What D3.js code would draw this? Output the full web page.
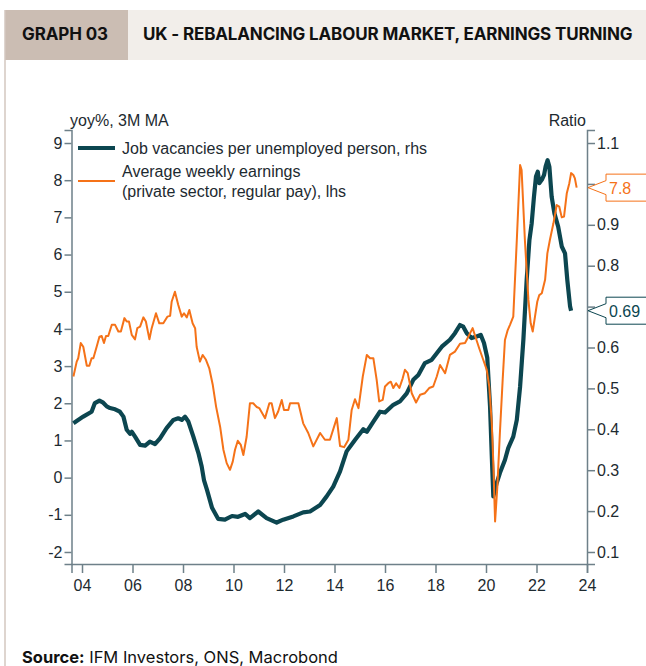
<!DOCTYPE html>
<html>
<head>
<meta charset="utf-8">
<script src="https://cdn.jsdelivr.net/npm/d3@7"></script>
<style>
  body { margin: 0; background: #fff; }
  .axis text, .lbl { font-family: "Liberation Sans", Arial, sans-serif; font-size: 16px; fill: #1d2a30; }
  .hdr { font-family: Inter, "Noto Sans", sans-serif; font-weight: 700; font-size: 17px; fill: #111; }
</style>
</head>
<body>
<svg id="chart" width="646" height="666"></svg>
<script>
// job vacancies per unemployed person (ratio, rhs)
const vacDates = [2003.66, 2004.05, 2004.38, 2004.51, 2004.69, 2004.84, 2004.98, 2005.11, 2005.31, 2005.50,
  2005.64, 2005.77, 2005.90, 2005.97, 2006.10, 2006.30, 2006.50, 2006.69, 2006.89, 2007.09,
  2007.35, 2007.62, 2007.81, 2007.95, 2008.08, 2008.21, 2008.41, 2008.61, 2008.74, 2008.83,
  2008.95, 2009.15, 2009.39, 2009.66, 2009.94, 2010.18, 2010.46, 2010.65, 2010.98, 2011.31,
  2011.71, 2011.97, 2012.37, 2012.76, 2013.03, 2013.43, 2013.69, 2013.95, 2014.22, 2014.48,
  2014.81, 2015.14, 2015.28, 2015.54, 2015.80, 2016.00, 2016.33, 2016.59, 2016.86, 2017.12,
  2017.32, 2017.58, 2017.85, 2018.25, 2018.57, 2018.77, 2018.97, 2019.10, 2019.24, 2019.43,
  2019.63, 2019.79, 2019.92, 2020.05, 2020.16, 2020.23, 2020.29, 2020.42, 2020.55, 2020.75,
  2020.88, 2021.08, 2021.22, 2021.35, 2021.48, 2021.61, 2021.72, 2021.81, 2021.90, 2021.98,
  2022.05, 2022.11, 2022.21, 2022.30, 2022.36, 2022.44, 2022.51, 2022.60, 2022.71, 2022.86,
  2023.00, 2023.13, 2023.22, 2023.33, 2023.37];
const vacRatio = [0.415, 0.431, 0.443, 0.464, 0.470, 0.465, 0.456, 0.452, 0.449, 0.443,
  0.431, 0.399, 0.389, 0.394, 0.382, 0.362, 0.360, 0.370, 0.364, 0.378,
  0.403, 0.423, 0.427, 0.423, 0.431, 0.419, 0.382, 0.342, 0.309, 0.276,
  0.252, 0.208, 0.181, 0.179, 0.188, 0.186, 0.193, 0.183, 0.199, 0.183,
  0.172, 0.179, 0.187, 0.197, 0.199, 0.215, 0.236, 0.260, 0.297, 0.346,
  0.374, 0.400, 0.394, 0.419, 0.443, 0.441, 0.460, 0.468, 0.488, 0.521,
  0.533, 0.562, 0.570, 0.602, 0.619, 0.635, 0.655, 0.651, 0.635, 0.623,
  0.627, 0.631, 0.611, 0.575, 0.456, 0.333, 0.236, 0.268, 0.293, 0.325,
  0.354, 0.382, 0.423, 0.504, 0.619, 0.765, 0.863, 0.904, 0.969, 1.018,
  1.030, 1.002, 1.010, 1.022, 1.042, 1.058, 1.042, 0.969, 0.928, 0.895,
  0.847, 0.830, 0.765, 0.700, 0.690];

// average weekly earnings, private sector regular pay (yoy %, 3M MA, lhs)
const aweDates = [2003.66, 2003.79, 2003.85, 2003.95, 2004.05, 2004.19, 2004.29, 2004.38, 2004.45, 2004.58,
  2004.69, 2004.78, 2004.87, 2004.95, 2005.04, 2005.18, 2005.31, 2005.44, 2005.54, 2005.68,
  2005.77, 2005.86, 2005.97, 2006.10, 2006.19, 2006.30, 2006.43, 2006.53, 2006.67, 2006.76,
  2006.93, 2007.06, 2007.22, 2007.38, 2007.49, 2007.55, 2007.68, 2007.81, 2007.95, 2008.04,
  2008.15, 2008.25, 2008.38, 2008.48, 2008.54, 2008.67, 2008.78, 2008.91, 2009.04, 2009.18,
  2009.31, 2009.47, 2009.60, 2009.73, 2009.86, 2009.97, 2010.06, 2010.17, 2010.29, 2010.39,
  2010.52, 2010.65, 2010.78, 2010.92, 2011.02, 2011.25, 2011.42, 2011.51, 2011.64, 2011.77,
  2011.91, 2012.00, 2012.17, 2012.24, 2012.57, 2012.76, 2012.96, 2013.16, 2013.43, 2013.62,
  2013.82, 2014.09, 2014.22, 2014.38, 2014.55, 2014.68, 2014.81, 2014.95, 2015.12, 2015.28,
  2015.41, 2015.54, 2015.67, 2015.77, 2015.91, 2016.00, 2016.13, 2016.23, 2016.33, 2016.44,
  2016.57, 2016.70, 2016.79, 2016.90, 2017.06, 2017.23, 2017.39, 2017.58, 2017.75, 2017.91,
  2018.05, 2018.18, 2018.38, 2018.57, 2018.77, 2018.97, 2019.17, 2019.30, 2019.47, 2019.60,
  2019.73, 2019.89, 2020.03, 2020.13, 2020.23, 2020.29, 2020.36, 2020.45, 2020.55, 2020.66,
  2020.75, 2020.86, 2020.95, 2021.08, 2021.22, 2021.35, 2021.41, 2021.54, 2021.68, 2021.77,
  2021.85, 2021.94, 2022.03, 2022.11, 2022.21, 2022.34, 2022.43, 2022.53, 2022.67, 2022.80,
  2022.90, 2023.00, 2023.09, 2023.20, 2023.30, 2023.37, 2023.46, 2023.52, 2023.59];
const aweYoY = [2.72, 3.12, 3.21, 3.62, 3.52, 3.01, 3.01, 3.21, 3.21, 3.52,
  3.79, 3.81, 3.62, 3.81, 3.81, 4.11, 4.11, 3.93, 3.93, 4.29,
  4.20, 4.20, 3.84, 3.72, 4.02, 4.06, 4.31, 4.20, 3.72, 4.02,
  4.42, 4.15, 4.15, 4.33, 4.35, 4.73, 5.00, 4.65, 4.33, 4.42,
  4.31, 4.51, 4.15, 4.02, 3.52, 3.12, 3.30, 3.17, 2.94, 2.49,
  1.91, 1.37, 0.75, 0.39, 0.21, 0.43, 0.75, 0.99, 0.88, 0.61,
  1.10, 2.00, 2.00, 1.90, 1.87, 1.60, 2.00, 2.00, 1.60, 1.78,
  2.09, 1.82, 1.82, 2.00, 2.00, 1.46, 1.20, 0.84, 1.20, 1.02,
  1.02, 1.60, 0.85, 0.82, 1.02, 1.82, 2.11, 1.87, 2.72, 3.30,
  3.21, 3.21, 2.63, 2.05, 2.09, 2.45, 2.54, 2.58, 2.41, 2.54,
  2.41, 2.67, 2.90, 2.81, 2.27, 2.02, 2.23, 2.27, 2.41, 2.45,
  2.72, 3.03, 2.81, 3.30, 3.39, 3.60, 3.62, 3.79, 4.02, 3.75,
  3.48, 3.17, 2.90, 2.45, 1.46, 0.39, -1.18, -0.24, 1.20, 2.63,
  3.70, 3.97, 4.11, 4.33, 6.39, 8.41, 8.27, 6.39, 4.78, 4.15,
  3.93, 4.33, 4.73, 4.91, 4.96, 5.32, 6.03, 6.39, 6.84, 7.33,
  7.29, 7.00, 7.02, 7.65, 7.92, 8.19, 8.14, 8.05, 7.80];

const yearTicks = [2004, 2006, 2008, 2010, 2012, 2014, 2016, 2018, 2020, 2022, 2024];
const leftTicks = [-2, -1, 0, 1, 2, 3, 4, 5, 6, 7, 8, 9];
const rightTicks = [0.1, 0.2, 0.3, 0.4, 0.5, 0.6, 0.7, 0.8, 0.9, 1.0, 1.1];
// right-axis labels that sit under the end-value boxes
const hiddenRight = [0.7, 1.0];

const teal = "#0c4650", orange = "#f57218", axisCol = "#6e8089";

const svg = d3.select("#chart");

// header band
svg.append("rect").attr("x", 5).attr("y", 10).attr("width", 641).attr("height", 50).attr("fill", "#f2eeea");
svg.append("rect").attr("x", 5).attr("y", 10).attr("width", 123).attr("height", 50).attr("fill", "#cbbdb3");
svg.append("line").attr("x1", 5).attr("x2", 5).attr("y1", 10).attr("y2", 666)
  .attr("stroke", "#d3c7bf").attr("stroke-width", 1.5);
svg.append("text").attr("class", "hdr").attr("x", 22).attr("y", 40).attr("letter-spacing", -0.1).text("GRAPH 03");
svg.append("text").attr("class", "hdr").attr("x", 143).attr("y", 40).attr("letter-spacing", -0.14)
  .text("UK - REBALANCING LABOUR MARKET, EARNINGS TURNING");

// source
const src = svg.append("text").attr("x", 22).attr("y", 663)
  .style("font-family", "Inter, sans-serif").style("font-size", "16.5px").attr("fill", "#111");
src.append("tspan").style("font-weight", 700).text("Source:");
src.append("tspan").text(" IFM Investors, ONS, Macrobond");

const plotL = 71.5, plotR = 587, plotT = 130, plotB = 564;

const x = d3.scaleLinear().domain([2003.584, 2024]).range([plotL, plotR]);
const yL = d3.scaleLinear().domain([-2.323, 9.35]).range([plotB, plotT]);
const yR = d3.scaleLinear().domain([0.1 - 0.323 / 11, 1.1 + 0.35 / 11]).range([plotB, plotT]);

// axes
const gx = svg.append("g").attr("class", "axis").attr("transform", "translate(0," + plotB + ")")
  .call(d3.axisBottom(x).tickValues(yearTicks).tickSize(9).tickPadding(4)
    .tickFormat(d => String(d % 100).padStart(2, "0")));
const gl = svg.append("g").attr("class", "axis").attr("transform", "translate(" + plotL + ",0)")
  .call(d3.axisLeft(yL).tickValues(leftTicks).tickSize(7).tickPadding(2).tickFormat(d => String(d)));
const gr = svg.append("g").attr("class", "axis").attr("transform", "translate(" + plotR + ",0)")
  .call(d3.axisRight(yR).tickValues(rightTicks).tickSize(8).tickPadding(2)
    .tickFormat(d => hiddenRight.some(h => Math.abs(h - d) < 1e-9) ? "" : d3.format(".1f")(d)));
svg.selectAll(".axis path").attr("stroke", axisCol).attr("stroke-width", 1.5);
svg.selectAll(".axis line").attr("stroke", axisCol).attr("stroke-width", 1.5);
svg.selectAll(".axis text").style("font-size", "16px").attr("fill", "#1d2a30");
gx.selectAll("text").attr("dy", "0.9em");

// axis titles
svg.append("text").attr("class", "lbl").attr("x", 70).attr("y", 126).text("yoy%, 3M MA");
svg.append("text").attr("class", "lbl").attr("x", 586).attr("y", 126).attr("text-anchor", "end").text("Ratio");

// lines
const vac = vacDates.map((d, i) => ({ x: d, y: vacRatio[i] }));
const awe = aweDates.map((d, i) => ({ x: d, y: aweYoY[i] }));

svg.append("path").datum(vac)
  .attr("fill", "none").attr("stroke", teal).attr("stroke-width", 4.2).attr("stroke-linejoin", "round")
  .attr("d", d3.line().x(d => x(d.x)).y(d => yR(d.y)));
svg.append("path").datum(awe)
  .attr("fill", "none").attr("stroke", orange).attr("stroke-width", 2).attr("stroke-linejoin", "round")
  .attr("d", d3.line().x(d => x(d.x)).y(d => yL(d.y)));

// legend
svg.append("line").attr("x1", 78).attr("x2", 115).attr("y1", 148).attr("y2", 148)
  .attr("stroke", teal).attr("stroke-width", 4);
svg.append("text").attr("class", "lbl").attr("x", 122).attr("y", 154).text("Job vacancies per unemployed person, rhs");
svg.append("line").attr("x1", 78).attr("x2", 115).attr("y1", 181).attr("y2", 181)
  .attr("stroke", orange).attr("stroke-width", 2);
svg.append("text").attr("class", "lbl").attr("x", 122).attr("y", 177).text("Average weekly earnings");
svg.append("text").attr("class", "lbl").attr("x", 122).attr("y", 197).text("(private sector, regular pay), lhs");

// end-value callouts
function callout(yPos, label, col) {
  const bx = 606, h = 27, t = yPos - h / 2;
  svg.append("path")
    .attr("d", "M" + bx + "," + t + "H650V" + (t + h) + "H" + bx + "V" + (yPos + 7) +
      "L" + (plotR + 1) + "," + yPos + "L" + bx + "," + (yPos - 7) + "Z")
    .attr("fill", "#fff").attr("stroke", col).attr("stroke-width", 1);
  svg.append("text").attr("class", "lbl").attr("x", bx + 3).attr("y", yPos + 6)
    .style("fill", col).text(label);
}
callout(yL(aweYoY[aweYoY.length - 1]), String(aweYoY[aweYoY.length - 1]), orange);
callout(yR(vacRatio[vacRatio.length - 1]), String(vacRatio[vacRatio.length - 1]), teal);
</script>
</body>
</html>
